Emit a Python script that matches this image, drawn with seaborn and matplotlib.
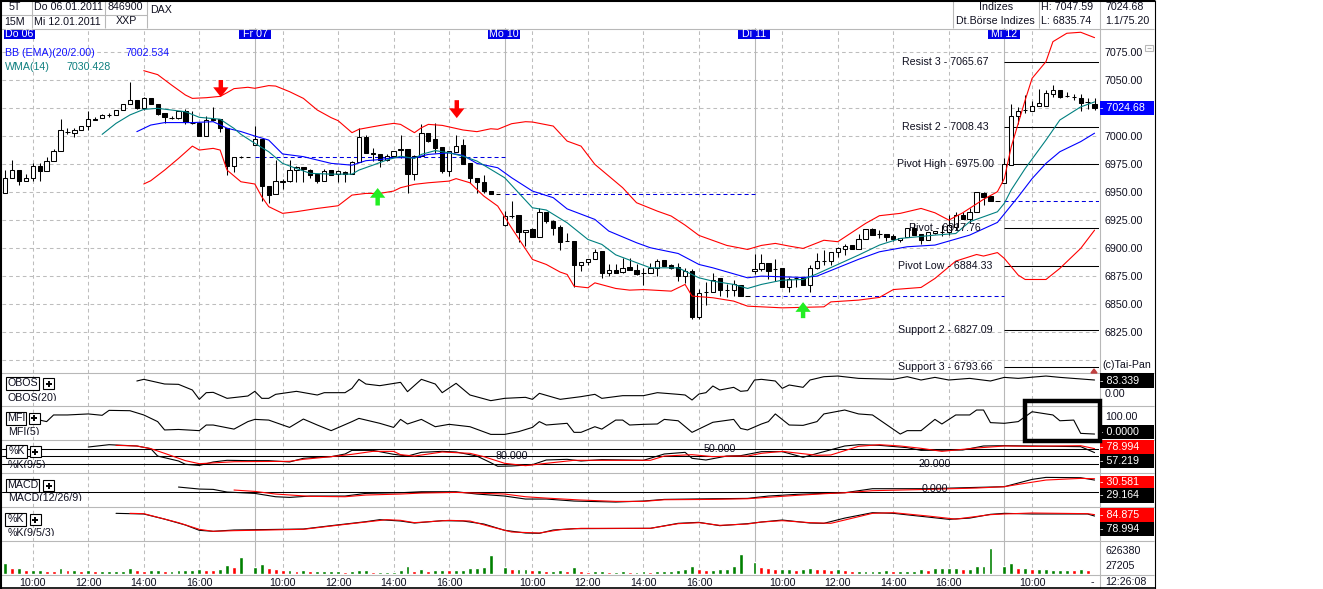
import matplotlib
matplotlib.use("Agg")
import matplotlib.pyplot as plt
import numpy as np
import seaborn as sns
from matplotlib.patches import Rectangle

# candles, one per 15 minutes, 36 a day
opens = [6949,6963,6970,6960,6963,6973,6969,6978,6987,7004,
    7003,7005,7009,7015.5,7016,7019,7019,7023,7029,7032,
    7025,7034,7029,7021,7016.5,7016,7022,7012,7012,7000,
    7015,7015,7007,6973,6981,6981,6992,6997,6955,6948,
    6959,6960,6970,6972,6970,6966,6960,6970,6966,6968,
    6966,6977,6999,6985,6984,6978.5,6982.5,6988.7,6988,6966.4,
    6982,7003,6997,6990.5,6968.8,6986,6991.7,6975.6,6962.2,6959.2,
    6951.2,6948.2,6920.5,6928.6,6929.2,6914.3,6916.7,6909.8,6932.4,6923.8,
    6918.5,6906,6906,6884.8,6887.5,6890.5,6897,6877.7,6880.7,6878.6,
    6882.7,6880.7,6878,6877.7,6882.4,6889.6,6884.5,6883.3,6875,6879.5,
    6838.4,6860.7,6860.7,6872.9,6863,6862.5,6867.3,6857.5,6879.5,6881,
    6886.9,6881.6,6881.9,6864.9,6872.9,6873.8,6867.3,6881.9,6888.7,6888.7,
    6896.1,6898.8,6902.4,6898.8,6908.3,6917,6912.2,6912.5,6910.7,6907.4,
    6910.1,6917.6,6912.2,6907.1,6913.1,6914.3,6914.3,6919,6929.8,6925.9,
    6932.4,6949.4,6946.7,6941.7,6958.3,6974.4,7017.6,7023.2,7022.6,7026.5,
    7027,7037.8,7041,7035.7,7034.5,7033.6,7030,7028.9]
closes = [6963,6970,6960,6963,6973,6969,6978,6987,7005,7004,
    7005,7009,7015,7014.5,7019,7018.5,7023,7029,7032,7025,
    7034,7029,7020,7017,7016.5,7022,7012.5,7011.5,7000,7014,
    7014,7007,6973,6981,6981,6981,6997,6955,6947.7,6959.5,
    6959.5,6970,6972,6970.5,6965.5,6960,6969,6965.5,6968.5,6966,
    6977,6999,6985,6984,6978.5,6982.5,6987,6987.5,6966.4,6982,
    7003,6995.5,6989.6,6968.8,6987,6991,6974.7,6962.5,6959,6950.6,
    6948.2,6948.2,6928.6,6928.6,6914.3,6916.4,6909.8,6932.4,6923.8,6917.9,
    6905.4,6906,6884.8,6887.8,6890.5,6896.7,6877.4,6880.7,6878,6882.4,
    6880.4,6877,6878,6882.4,6888.7,6884,6882.4,6875,6879.8,6838.4,
    6860.1,6860.7,6871.4,6862.5,6863,6868.2,6857.2,6857.5,6881.6,6886.9,
    6880,6881.2,6864.9,6872,6872.9,6867.3,6882.4,6888.7,6888.7,6896.1,
    6899.7,6901.8,6898.8,6908.3,6916.7,6911.6,6912.2,6910.1,6907.7,6909.2,
    6917.6,6911.6,6907.1,6914.3,6914.9,6914.3,6920.2,6929.2,6925.6,6932.4,
    6950,6945.8,6942,6941.7,6975,7017.6,7022.6,7023.2,7026.5,7029.2,
    7038,7040.8,7035,7035.7,7034.5,7029.8,7030,7024.68]
highs = [6969.6,6979,6970,6966,6976,6976,6981.5,6988.5,7015,7007,
    7007,7009,7022,7017,7019.5,7021,7023.5,7029,7048.5,7032,
    7035,7034,7029,7021,7018,7022,7024,7022,7012.5,7018,
    7026,7015,7007,6981,6982.5,6981,7009,6997,6955,6978.6,
    6962,6978.6,6973.5,6972.5,6971,6966,6971,6970,6969.5,6969,
    6978,7007,7001,6989,6984,6984,6987,7001,6988,6983,
    7010.4,7003,7011.3,6990.5,6987,7000.6,6997,6975.6,6962.2,6964.9,
    6951.2,6948.2,6932.7,6941.7,6929.2,6916.4,6918.2,6936,6932.4,6925,
    6920.2,6913.7,6906,6887.8,6890.5,6899.4,6897,6885.4,6885.4,6891.4,
    6891.4,6885.4,6882.4,6886.3,6890.5,6889.6,6885.4,6886.3,6882.4,6881.6,
    6863.7,6869.7,6878,6873.5,6867.6,6871.4,6867.3,6857.5,6894.4,6894.4,
    6886.9,6889.9,6881.9,6874.4,6873.8,6873.8,6884.5,6895.8,6898.2,6896.1,
    6901.2,6903.3,6902.4,6912.5,6916.7,6918.2,6916.1,6912.5,6912.5,6909.2,
    6917.6,6922,6912.2,6914.3,6915.5,6920.5,6929.5,6932.4,6932.4,6935.4,
    6950,6950,6946.7,6941.7,6980.4,7028.3,7025.6,7036.6,7031.3,7041.7,
    7041,7045.5,7041.5,7039.6,7037.2,7037.2,7033.6,7033.6]
lows = [6948.8,6963,6956,6960,6960,6960,6969,6978,6987,7002,
    6999,7005,7005,7014,7016,7017,7019,7023,7029,7024,
    7023,7029,7019,7012,7015,7015,7011,7011,7000,7000,
    7013,7004,6965.5,6968,6980,6981,6992,6942,6940,6948,
    6953,6959,6959,6959,6963,6958,6960,6965,6959,6959,
    6966,6977,6985,6978,6972,6978,6982,6980,6949.4,6960.7,
    6982,6994.6,6985,6966.7,6964.3,6986,6974.7,6958.3,6948.8,6948.8,
    6948.2,6948.2,6919.6,6926.8,6905.4,6901.8,6909.8,6909.8,6922,6911.3,
    6898.2,6906,6865.2,6879.5,6884.8,6890.5,6873.2,6875,6877.4,6878,
    6880.4,6875.6,6866.7,6877.7,6875,6884,6881,6870.5,6869,6836.3,
    6836.3,6848.8,6860.7,6857.2,6856.6,6857.2,6857.2,6857.5,6876.5,6879.5,
    6872,6870.5,6864.9,6861,6865.5,6867.3,6861,6881.6,6884.8,6884.8,
    6892.3,6893.8,6898.8,6898.8,6908.3,6911.6,6908.6,6906.3,6906.3,6905.7,
    6910.1,6911.6,6903.6,6907.1,6912.5,6911,6911.6,6916,6925.6,6922,
    6932.4,6938.7,6942,6941.7,6958.3,6974.4,7010.7,7020.8,7022.6,7026.5,
    7027,7035,7034,7034.5,7032,7022.6,7023.8,7023.2]

# bollinger bands and wma, read at the bends of each line
bb_up_idx = [20,22,24,26,27,29,31,32,33,35,36,38,39,41,43,45,47,48,50,51,53,55,56,57,59,60,61,63,66,68,70,71,73,75,76,79,81,83,85,87,89,91,94,96,98,100,104,107,109,111,113,115,118,120,124,126,129,132,134,136,138,141,143,144,145,146,147,148,150,151,153,155,157]
bb_up = [7058.3,7054.8,7045.5,7036.6,7033.6,7034.2,7035.4,7038.7,7042.3,7043.5,7042.6,7045,7044.6,7039.6,7033.6,7023.2,7016.4,7013.7,7003,7006,7008.3,7010.4,7011.3,7010.4,7003,7007.4,7010.4,7009.5,7005.4,7003.9,7006.5,7006,7011,7012.8,7012.5,7008.9,6995.5,6991,6974.7,6964.3,6953.9,6940.5,6933,6928.6,6920.5,6911.3,6902.4,6898.8,6902.4,6904.2,6901.8,6899.7,6907,6905.7,6922,6928.9,6931,6935.4,6931.5,6925,6931.5,6943.5,6950.3,6962,6990.5,7011.3,7032,7051.5,7066.4,7084.2,7091.7,7092.6,7087.8]
bb_low_idx = [20,21,23,25,27,28,30,31,32,34,36,37,38,40,42,45,48,50,52,54,56,57,59,61,64,65,67,69,71,73,76,78,80,81,82,84,85,88,90,92,96,98,99,102,105,107,112,118,119,123,126,128,132,134,137,140,141,143,144,146,147,150,152,155,157]
bb_low = [6957.2,6960.1,6969.6,6980,6991,6987.5,6989,6987.5,6969.6,6959.2,6957.2,6945.8,6937,6931,6932.5,6935.4,6937.8,6947.3,6948.8,6948.8,6950.9,6953.9,6956.9,6958.3,6959.8,6962,6958.3,6946.4,6937.5,6918,6889.9,6885.4,6878.6,6876.5,6866,6864.6,6869,6864,6862.5,6863,6861.6,6867.6,6857.2,6855.7,6852.7,6848.2,6846.7,6847.6,6852,6853.6,6856,6863,6864.9,6872.9,6888.4,6894.3,6892.9,6896,6890.8,6875.9,6872,6872,6881.9,6899.7,6916]
bb_mid_idx = [19,21,23,27,30,32,34,36,38,40,43,47,50,52,54,56,59,61,64,66,68,71,73,76,79,81,85,87,91,93,97,100,102,107,109,115,117,123,126,130,134,139,143,146,148,150,152,155,157]
bb_mid = [7003.9,7009.8,7012,7012,7012.8,7007,7004,7000,6996.4,6984,6981.6,6975.6,6974,6978,6979,6980.7,6980.7,6983.6,6985,6982.7,6975.6,6971.7,6962.8,6950.9,6945,6935,6925.6,6915.2,6904.8,6900.3,6895.2,6885.4,6882.4,6873.5,6875,6873.8,6875,6890,6896.7,6901.2,6902.7,6911.6,6922.9,6945.8,6962,6975.6,6986,6995,7002.534]
wma_idx = [14,16,18,20,22,26,28,31,33,34,36,38,40,42,44,47,50,51,53,55,57,59,60,62,64,66,68,72,74,76,78,81,84,86,88,91,93,97,100,102,105,107,109,112,115,117,123,126,129,134,137,139,143,144,145,147,150,152,155,157]
wma = [7001.5,7011.3,7018.8,7023.8,7024.7,7021.7,7016.7,7015,7006.8,7001.5,6993.5,6986,6975.6,6971,6966.7,6966,6966,6969.6,6974,6978.6,6982,6980,6983.6,6987,6985,6982,6977.7,6962.8,6949.4,6936,6934,6922.6,6907.7,6903.3,6894,6887,6882.4,6882.4,6873.5,6870.5,6867.6,6864,6867.6,6871.4,6872,6877,6893.8,6902.7,6908.6,6911.6,6913,6923.5,6932.4,6940,6952,6971,6996.4,7014.3,7026,7030.428]

# pivot levels and prior day closes
level_names = ["Resist 3", "Resist 2", "Pivot High", "Pivot", "Pivot Low", "Support 2", "Support 3"]
level_values = [7065.67, 7008.43, 6975.00, 6917.76, 6884.33, 6827.09, 6793.66]
prev_close_days = [36, 72, 108, 144]
prev_close = [6981, 6948, 6857.5, 6942]

# signal arrows: candle, tip price, tail price
sell_idx = [31.1, 65.1]
sell_tip = [7034.8, 7016]
sell_tail = [7050, 7032]
buy_idx = [53.7, 115]
buy_tip = [6953.6, 6851.8]
buy_tail = [6938, 6837.5]

# oscillator panes
obos_idx = [19,20,23,25,27,28,29,30,32,35,36,37,38,39,42,45,46,49,50,51,52,54,57,58,60,62,63,65,67,70,72,75,76,77,80,83,85,86,89,92,94,97,98,99,100,101,102,103,105,106,107,108,109,111,112,113,115,116,118,120,123,128,130,132,134,136,139,142,144,146,150,152,157]
obos = [77.4,87.3,59.5,57.5,23.8,-31.7,7.9,9.9,-25.8,-11.9,15.9,-25.8,-25.8,-2,15.9,-6,7.9,7.9,33.7,87.3,59.5,49.6,69.4,13.9,87.3,59.5,7.9,63.5,-5.9,-39.6,-25.8,-19.8,-31.7,4,-31.7,-15.8,-2,-25.8,-9.9,-9.9,7.9,-2,-5.9,-35.7,0,7.9,47.6,23.8,39.7,15.9,19.9,83.3,87.3,77.4,33.7,53.6,39.7,83.3,103,107,93,87.3,103,83.3,99,83.3,93,77.4,99,93,107,99,83.339]
mfi_idx = [5,6,7,9,12,14,15,18,20,22,23,25,28,29,30,33,35,36,38,41,43,45,47,50,51,54,56,57,58,60,62,64,67,70,72,74,76,77,78,81,82,83,85,86,88,89,90,92,94,95,97,99,102,105,106,107,109,110,111,113,115,117,118,121,123,125,129,130,132,134,135,137,139,140,141,142,144,146,148,151,152,154,155,157]
mfi = [82,73,112,112,118,110,139,137,112,73,24,27,20,53,53,29,73,86,82,39,88,53,20,73,92,63,39,86,59,86,43,57,43,-2,-2,14,39,73,53,63,10,10,43,29,82,82,53,57,59,86,78,10,69,86,33,24,59,73,118,53,51,73,118,141,118,112,0,20,20,86,59,112,112,141,141,67,63,73,131,112,78,82,4,0]
stoch_idx = [12,15,19,21,22,25,26,28,30,32,35,38,41,43,45,47,49,50,53,56,58,60,63,65,68,70,71,73,76,78,81,83,86,92,95,98,99,101,104,106,109,112,115,118,121,123,126,130,132,138,141,144,148,155,157]
stoch_k = [87.6,97,91.7,81,51,31,17.5,13,27,33.7,32.3,32.3,27,41.8,46,48.5,59.3,74,74,58,51,66,70,67.4,51,24,9.4,10.7,16,35,37.7,31,36.4,33.7,59.3,66,41.8,35,51,52.5,68.8,68.8,46,68.8,91.7,97,94.4,85,74,75.5,91.7,93,91.7,89,65]
stoch_d_idx = [16,19,21,23,26,28,33,41,43,47,50,53,56,57,59,63,67,69,72,75,78,82,88,93,95,99,102,105,107,109,112,117,119,123,126,129,132,135,140,144,148,155,157]
stoch_d = [94.4,91.7,81,62,32.3,20,28,29.6,37.7,48.5,58,70,70,56.6,51,67.4,62,48.5,21.5,12,21.5,33.7,33.7,33.7,51,56.6,48.5,51,51,62,70,54,55.3,90.4,97,91.7,82.3,70,83.6,91.7,90.4,93,81]
macd_idx = [25,28,30,32,36,39,41,44,49,52,57,60,65,68,72,75,78,82,88,92,95,102,107,110,114,118,121,125,133,140,144,148,150,155,157]
macd_line = [11.4,6.8,6,-0.1,-3.2,-10.9,-12.4,-9.3,-9.3,-3.2,-1.7,0.6,0.6,-4.7,-9.3,-16.2,-16.2,-20.8,-23.1,-20.8,-17,-15.5,-14.7,-9.3,-5.5,-3.2,-1.7,7.6,7.6,10.6,12.2,29,33.6,32.9,27.5]
macd_sig_idx = [33,36,39,44,49,52,57,60,65,69,72,75,78,83,88,92,95,102,107,109,114,118,121,125,133,140,144,146,150,155,157]
macd_sig = [4.5,1.4,-4.7,-10,-10.9,-7,-4.7,-2.4,-0.9,-3.2,-4.7,-10.9,-14,-18.5,-21.6,-21.6,-17.8,-17,-15.5,-13.2,-7.8,-4,-1.7,3,6,9.1,12.2,17.5,27.5,31.3,30.6]
slow_idx = [16,20,23,26,28,30,33,43,47,52,54,57,59,63,66,69,72,75,77,79,82,93,97,100,103,107,109,112,116,118,121,125,128,133,136,139,142,144,148,156,157]
slow_k = [83.8,81.9,67,49.9,34.5,31.6,35.4,38.3,48,59.6,65.4,61.5,55.7,62.5,61.5,52.8,34.5,26.7,25.8,35.4,39.3,40.3,54.8,57.7,48,53.8,58.6,64.4,55.7,54.8,70,85.7,83.8,73,66.4,70,80.9,83.8,81.9,81.9,76]
slow_d_idx = [18,20,25,28,30,33,43,47,52,55,57,59,64,67,70,73,77,80,83,93,97,100,103,107,109,112,116,119,121,125,128,133,137,142,144,148,156,157]
slow_d = [83.8,82.8,56.7,37.4,31.6,33.5,37.4,47,58.6,65.4,63.5,56.7,63.5,61.5,45,29.6,26.7,36.4,40.3,40.3,53.8,56.7,49,52.8,58.6,62.5,56.7,54.8,64.4,83.8,85.7,76,67,80,81.9,84.8,82.8,80]

# volume per candle, g / r as printed
volume = [255000,139000,139000,93000,93000,93000,70000,77000,139000,93000,
    93000,70000,93000,70000,70000,70000,70000,70000,139000,93000,
    70000,93000,93000,70000,70000,93000,93000,93000,116000,93000,
    93000,116000,201000,162000,387000,23000,162000,224000,139000,116000,
    93000,93000,70000,93000,70000,70000,70000,70000,70000,46000,
    70000,93000,93000,46000,46000,46000,46000,93000,186000,70000,
    116000,70000,93000,93000,93000,93000,93000,139000,139000,162000,
    441000,23000,162000,116000,116000,116000,93000,93000,70000,70000,
    93000,70000,162000,70000,46000,70000,70000,46000,46000,70000,
    46000,46000,70000,46000,70000,70000,70000,93000,116000,186000,
    116000,93000,93000,116000,116000,186000,464000,23000,278000,162000,
    139000,116000,116000,116000,93000,116000,139000,116000,116000,93000,
    116000,93000,70000,70000,70000,70000,70000,93000,70000,70000,
    70000,70000,116000,93000,139000,139000,139000,139000,116000,116000,
    186000,186000,603000,23000,186000,255000,139000,139000,116000,116000,
    116000,93000,93000,93000,93000,116000,93000,27205]
volume_side = list("GRGRGGRRGRGRGRGGGGGRRGGRGGGGGRRGGRGRGGRRRGRGRGGGGRGGGR"
    "GGGGGRGRGGRGGGGGGRGRGGRGRGGRGRRGGRGGRGGRGGGGGGRRGGGGGRGRRR"
    "GGRGGRRRGRRGGGGGRGGGGRGGGGRGGGGRGGRGRGGGGGRGRR")

hour_ticks = [4, 12, 20, 28, 40, 48, 56, 64, 76, 84, 92, 100, 112, 120, 128, 136, 148]
hour_labels = ["10:00", "12:00", "14:00", "16:00"] * 4 + ["10:00"]
day_starts = [36, 72, 108, 144]
price_ticks = [6800, 6825, 6850, 6875, 6900, 6925, 6950, 6975, 7000, 7025, 7050, 7075]
price_hidden = [6800, 7025]

W, H = 1323, 589
FONT = 7.7
GRID = "#bdbdbd"
DASH = (0, (3.5, 3))
X_RANGE = (-0.43, 157.64)
SIDE_COLORS = {"G": "#008000", "R": "#ff0000"}


def pane(fig, y_top, y_bottom, ylim):
    ax = fig.add_axes([2 / W, 1 - y_bottom / H, 1097 / W, (y_bottom - y_top) / H])
    ax.set_xlim(*X_RANGE)
    ax.set_ylim(*ylim)
    ax.patch.set_alpha(0)
    sns.despine(ax=ax, left=True, bottom=True)
    ax.set_xticks(hour_ticks)
    ax.set_xticklabels([])
    ax.set_yticks([])
    ax.tick_params(length=0)
    ax.grid(True, axis="x", color=GRID, linestyle=DASH, linewidth=0.75)
    ax.set_axisbelow(True)
    for d in day_starts:
        ax.axvline(d, color="#b8b8b8", linewidth=0.8, zorder=0.6)
    return ax


def line(ax, x, y, color, width=0.8):
    sns.lineplot(x=x, y=y, ax=ax, color=color, linewidth=width, estimator=None,
                 sort=False, errorbar=None, legend=False, zorder=4)


sns.set_theme(style="white")
plt.rcParams["font.family"] = ["Liberation Sans", "DejaVu Sans"]
plt.rcParams["font.size"] = FONT

fig = plt.figure(figsize=(W / 100, H / 100), dpi=100, facecolor="white")

# price pane
ax = pane(fig, 28, 372.5, (6789, 7096.4))
ax.set_yticks(price_ticks)
ax.set_yticklabels(["" if p in price_hidden else f"{p:.2f}" for p in price_ticks])
ax.yaxis.tick_right()
ax.tick_params(axis="y", length=0, pad=4, labelsize=FONT, labelcolor="#101020")
ax.grid(True, axis="y", color=GRID, linestyle=DASH, linewidth=0.75)

candles = np.arange(len(closes))
opens_a, closes_a = np.array(opens), np.array(closes)
ax.vlines(candles, lows, highs, color="black", linewidth=0.75, zorder=2, snap=True)
fills = ["white" if c > o else "black" for o, c in zip(opens, closes)]
ax.bar(candles, closes_a - opens_a, bottom=opens_a, width=0.62, color=fills,
       edgecolor="black", linewidth=0.75, zorder=3)

for day, level in zip(prev_close_days, prev_close):
    ax.hlines(level, day, min(day + 36, X_RANGE[1]), color="#0000e0", linewidth=0.75,
              linestyle=(0, (3.85, 2.9)), zorder=1.5, snap=True)
for name, level in zip(level_names, level_values):
    ax.hlines(level, 144, X_RANGE[1], color="black", linewidth=0.75, zorder=1.5, snap=True)
    ax.text(135.5, level, f"{name} - {level:.2f}", ha="center", va="center",
            fontsize=FONT, color="#101020", clip_on=True, zorder=6)

line(ax, bb_up_idx, bb_up, "#ff0000")
line(ax, bb_low_idx, bb_low, "#ff0000")
line(ax, bb_mid_idx, bb_mid, "#0000ff")
line(ax, wma_idx, wma, "#008080")

for x, tip, tail, col in zip(sell_idx + buy_idx, sell_tip + buy_tip, sell_tail + buy_tail,
                             ["#ff0000"] * 2 + ["#22ee22"] * 2):
    ax.annotate("", xy=(x, tip), xytext=(x, tail), zorder=7,
                arrowprops=dict(facecolor=col, edgecolor=col, width=3.2, headwidth=11,
                                headlength=7, shrink=0, linewidth=0))

# indicator panes
ax_obos = pane(fig, 373, 406, (-71.4, 125))
line(ax_obos, obos_idx, obos, "black")

ax_mfi = pane(fig, 406, 439.5, (-32, 164.6))
line(ax_mfi, mfi_idx, mfi, "black")

ax_stoch = pane(fig, 440, 473, (-17.7, 116))
for level in [80, 50, 20]:
    ax_stoch.axhline(level, color="black", linewidth=0.75, zorder=1.5)
line(ax_stoch, stoch_idx, stoch_k, "black")
line(ax_stoch, stoch_d_idx, stoch_d, "#ff0000")
for x, level, label in [(73, 50, "80.000"), (103, 80, "50.000"), (134, 20, "20.000")]:
    ax_stoch.text(x, level, label, ha="center", va="center", fontsize=FONT, color="#101020", zorder=5)

ax_macd = pane(fig, 473, 507, (-34.5, 43.7))
ax_macd.axhline(0, color="black", linewidth=0.75, zorder=1.5)
line(ax_macd, macd_idx, macd_line, "black")
line(ax_macd, macd_sig_idx, macd_sig, "#ff0000")
ax_macd.text(134, 7.5, "0.000", ha="center", va="center", fontsize=FONT, color="#101020", zorder=5)

ax_slow = pane(fig, 507, 541, (3.5, 102.2))
line(ax_slow, slow_idx, slow_k, "black")
line(ax_slow, slow_d_idx, slow_d, "#ff0000")

# volume pane with the time axis
ax_vol = pane(fig, 541, 574, (0, 765600))
ax_vol.bar(candles, volume, width=0.56, color=[SIDE_COLORS[s] for s in volume_side], zorder=3)
ax_vol.set_xticks(hour_ticks)
ax_vol.set_xticklabels(hour_labels, fontsize=FONT, color="#101020")
ax_vol.tick_params(axis="x", length=0, pad=3)

# window chrome, drawn in pixel coordinates
ov = fig.add_axes([0, 0, 1, 1], zorder=20)
ov.set_xlim(0, W)
ov.set_ylim(H, 0)
ov.axis("off")


def txt(x, y, s, color="#101020", ha="left", **kw):
    return ov.text(x, y, s, color=color, ha=ha, va="center", fontsize=FONT, **kw)


def box(x0, y0, x1, y1, face="none", edge="none", lw=0.0, z=1):
    ov.add_patch(Rectangle((x0, y0), x1 - x0, y1 - y0, facecolor=face, edgecolor=edge,
                           linewidth=lw, zorder=z))


def seg(x0, y0, x1, y1, color="#b8b8b8", lw=0.8, z=2):
    ov.plot([x0, x1], [y0, y1], color=color, linewidth=lw, zorder=z, solid_capstyle="butt")


# frame and separators
for y in [28.5, 372.5, 406, 439.5, 473, 507, 541, 574.5]:
    seg(0, y, 1154, y)
seg(1099.5, 0, 1099.5, 589)
for x in [32, 105, 147, 953, 1039]:
    seg(x, 0, x, 28)
seg(0, 14.5, 147, 14.5)
seg(0.5, 0, 0.5, 589, color="black", lw=1.5)
seg(0, 0.5, 1155, 0.5, color="black", lw=1.5)
seg(1154.5, 0, 1154.5, 589, color="black", lw=0.8)
seg(0, 588, 1155, 588, color="black", lw=1.2)

# header cells
txt(15, 7.5, "5T", ha="center")
txt(15, 22, "15M", ha="center")
txt(34, 7.5, "Do 06.01.2011")
txt(34, 22, "Mi 12.01.2011")
txt(108, 7.5, "846900")
txt(116, 21, "XXP")
txt(150, 10, "DAX")
txt(996, 7.5, "Indizes", ha="center")
txt(956, 21, "Dt.Börse Indizes")
txt(1041, 7.5, "H: 7047.59")
txt(1041, 21, "L: 6835.74")
txt(1105, 7.5, "7024.68")
txt(1105, 21, "1.1/75.20")

# day labels
for x0, x1, s in [(4, 35, "Do 06"), (239, 271, "Fr 07"), (488, 520, "Mo 10"),
                  (738, 770, "Di 11"), (988, 1020, "Mi 12")]:
    box(x0, 29.5, x1, 39, face="#0000e6")
    txt((x0 + x1) / 2, 34.3, s, color="white", ha="center")

# chart legend
txt(5, 53, "BB (EMA)(20/2.00)", color="#1414ff")
txt(125, 53, "7002.534", color="#1414ff")
txt(5, 67, "WMA(14)", color="#108080")
txt(66, 67, "7030.428", color="#108080")

# right column
for y0, y1, c, s in [(373, 388, "black", "- 83.339"), (425, 439, "black", "- 0.0000"),
                     (440, 454, "#ff0000", "- 78.994"), (454, 468, "black", "- 57.219"),
                     (476, 488, "#ff0000", "- 30.581"), (488, 503, "black", "- 29.164"),
                     (508, 522, "#ff0000", "- 84.875"), (522, 536, "black", "- 78.994"),
                     (101, 115, "#0000ff", "- 7024.68")]:
    box(1100, y0, 1154, y1, face=c, z=3)
    txt(1100, (y0 + y1) / 2, s, color="white", zorder=4)
txt(1105, 394, "0.00")
txt(1105, 417, "100.00")
txt(1105, 551, "626380")
txt(1105, 566, "27205")
txt(1105, 582, "12:26:08")
txt(1091, 582, "-")
txt(1102, 365, "(c)Tai-Pan", zorder=4)
box(1145, 45, 1153, 51, edge="#b8b8b8", lw=0.8)
seg(1147, 48, 1151, 48)
ov.fill([1091, 1097, 1094], [373, 373, 369], color="#c04040", zorder=3)

# thick frame on the mfi pane
box(1024.5, 400.5, 1100, 441, edge="black", lw=3.2, z=5)

# pane name boxes
for name, bx, plus_x, y, sub, sub_y in [("OBOS", (6, 39), 43, 377, "OBOS(20)", 398),
                                        ("MFI", (6, 26), 28.5, 411.5, "MFI(5)", 432),
                                        ("%K", (6, 27), 29.5, 445, "%K(9/5)", 464.5),
                                        ("MACD", (6, 39), 43, 479, "MACD(12/26/9)", 498),
                                        ("%K", (5, 26), 29.5, 513, "%K(9/5/3)", 532.5)]:
    box(bx[0], y, bx[1], y + 13, face="white", edge="black", lw=0.8, z=6)
    txt(sum(bx) / 2, y + 6.5, name, ha="center", zorder=7)
    box(plus_x, y + 1, plus_x + 11, y + 12, face="white", edge="black", lw=0.8, z=6)
    seg(plus_x + 2.5, y + 6.5, plus_x + 8.5, y + 6.5, color="black", lw=1.4, z=7)
    seg(plus_x + 5.5, y + 3.5, plus_x + 5.5, y + 9.5, color="black", lw=1.4, z=7)
    t = txt(8, sub_y, sub, zorder=7)
    t.set_clip_path(Rectangle((0, sub_y - 8), 200, 11, transform=ov.transData))
    t.set_clip_on(True)

fig.savefig("out.png", dpi=100, facecolor="white")
plt.close(fig)
